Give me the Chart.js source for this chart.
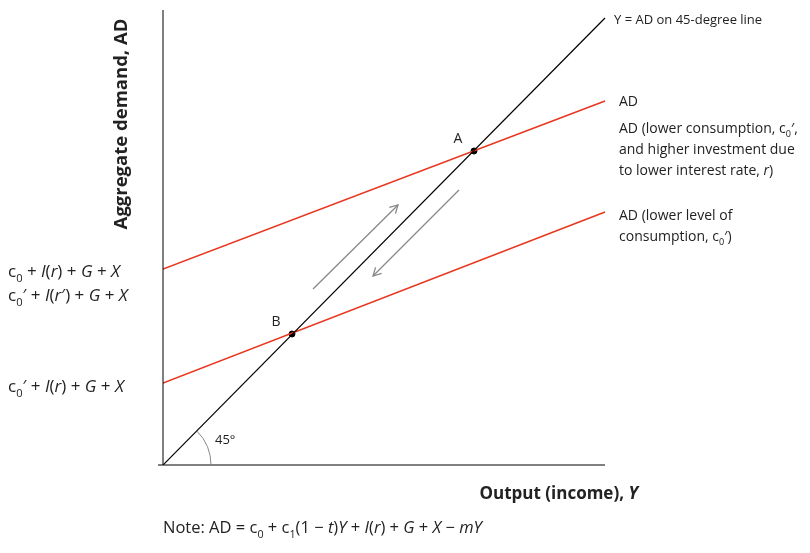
<!DOCTYPE html><html><head><meta charset="utf-8"><script src="https://cdn.jsdelivr.net/npm/chart.js@4"></script>
<style>body{margin:0;background:#fff}#w{width:810px;height:553px}</style></head><body><div id="w"><canvas id="c"></canvas></div>
<script>
const line45 = [[0,0],[442,447]];
const adHigh = [[0,196],[442,364]];
const adLow = [[0,82],[442,253]];
const eqPoints = [[311,314],[129,131]];
const eqLabels = ['A','B'];
const arrowUp = [[150,176],[235,260]];
const arrowDown = [[296,275],[210,189]];
const toXY = a => a.map(p=>({x:p[0],y:p[1]}));
const F = '"Open Sans", sans-serif';
function rich(ctx,x,y,segs,size,align){
  const measure=()=>{let w=0;for(const s of segs){ctx.font=font(s[1],size);w+=ctx.measureText(s[0]).width;}return w;};
  let cx=x; if(align==='right') cx=x-measure(); if(align==='center') cx=x-measure()/2;
  for(const s of segs){ctx.font=font(s[1],size);ctx.fillText(s[0],cx,y+(s[1]==='s'?size*0.3:0));cx+=ctx.measureText(s[0]).width;}
}
function font(st,size){ if(st==='s') return (size*0.65)+'px '+F; if(st==='i') return 'italic '+size+'px '+F; if(st==='b') return 'bold '+size+'px '+F; if(st==='bi') return 'italic bold '+size+'px '+F; return size+'px '+F;}
const deco={id:'deco',afterDatasetsDraw(ch){
  const ctx=ch.ctx,xs=ch.scales.x,ys=ch.scales.y;
  const P=(p)=>[xs.getPixelForValue(p[0]),ys.getPixelForValue(p[1])];
  ctx.save();
  ctx.strokeStyle='#000';ctx.lineWidth=1;
  const o=P([0,0]);
  ctx.beginPath();ctx.moveTo(o[0],ys.getPixelForValue(455));ctx.lineTo(o[0],o[1]);ctx.moveTo(o[0]-5,o[1]);ctx.lineTo(xs.getPixelForValue(442),o[1]);ctx.stroke();
  ctx.strokeStyle='#888';
  ctx.beginPath();ctx.arc(o[0],o[1],48,-Math.PI/4,0);ctx.stroke();
  for(const a of [arrowUp,arrowDown]){
    const s=P(a[0]),e=P(a[1]);ctx.strokeStyle='#888';ctx.lineWidth=1.3;
    ctx.beginPath();ctx.moveTo(s[0],s[1]);ctx.lineTo(e[0],e[1]);ctx.stroke();
    const ang=Math.atan2(e[1]-s[1],e[0]-s[0]);
    ctx.beginPath();
    ctx.moveTo(e[0]-9*Math.cos(ang-0.5),e[1]-9*Math.sin(ang-0.5));ctx.lineTo(e[0],e[1]);
    ctx.lineTo(e[0]-9*Math.cos(ang+0.5),e[1]-9*Math.sin(ang+0.5));ctx.stroke();
  }
  ctx.fillStyle='#222';ctx.textBaseline='alphabetic';
  eqPoints.forEach((p,i)=>{const q=P(p);ctx.font='14px '+F;ctx.textAlign='center';ctx.fillText(eqLabels[i],q[0]-16,q[1]-8);});
  ctx.textAlign='left';
  rich(ctx,215,444,[['45°','']],13);
  const s=17;
  rich(ctx,614,24,[['Y = AD on 45-degree line','']],13);
  rich(ctx,619,106,[['AD','']],14);
  rich(ctx,619,133,[['AD (lower consumption, c',''],['0','s'],['′,','']],14);
  rich(ctx,619,154,[['and higher investment due','']],14);
  rich(ctx,619,175,[['to lower interest rate, ',''],['r','i'],[')','']],14);
  rich(ctx,619,220,[['AD (lower level of','']],14);
  rich(ctx,619,241,[['consumption, c',''],['0','s'],['′)','']],14);
  rich(ctx,8,277,[['c',''],['0','s'],[' + ',''],['I','i'],['(',''],['r','i'],[') + ',''],['G','i'],[' + ',''],['X','i']],s);
  rich(ctx,8,301,[['c',''],['0','s'],['′ + ',''],['I','i'],['(',''],['r','i'],['′) + ',''],['G','i'],[' + ',''],['X','i']],s);
  rich(ctx,8,392,[['c',''],['0','s'],['′ + ',''],['I','i'],['(',''],['r','i'],[') + ',''],['G','i'],[' + ',''],['X','i']],s);
  rich(ctx,638,499,[['Output (income), ','b'],['Y','bi']],17,'right');
  rich(ctx,163,533,[['Note: AD = c',''],['0','s'],[' + c',''],['1','s'],['(1 − ',''],['t','i'],[')',''],['Y','i'],[' + ',''],['I','i'],['(',''],['r','i'],[') + ',''],['G','i'],[' + ',''],['X','i'],[' − ',''],['mY','i']],16.5);
  ctx.translate(127,124);ctx.rotate(-Math.PI/2);
  rich(ctx,0,0,[['Aggregate demand, AD','b']],18.5,'center');
  ctx.restore();
}};
new Chart(document.getElementById('c'),{type:'scatter',
 data:{datasets:[
  {data:toXY(line45),showLine:true,borderColor:'#000',borderWidth:1.2,pointRadius:0},
  {data:toXY(adHigh),showLine:true,borderColor:'#e8361e',borderWidth:1.5,pointRadius:0},
  {data:toXY(adLow),showLine:true,borderColor:'#e8361e',borderWidth:1.5,pointRadius:0},
  {data:toXY(eqPoints),showLine:false,backgroundColor:'#000',borderColor:'#000',pointRadius:3}
 ]},
 options:{responsive:true,maintainAspectRatio:false,animation:false,
  layout:{padding:{left:163,right:202,top:10,bottom:88}},
  plugins:{legend:{display:false},tooltip:{enabled:false}},
  scales:{x:{type:'linear',min:0,max:445,display:false},y:{type:'linear',min:0,max:455,display:false}}},
 plugins:[deco]});
</script></body></html>
